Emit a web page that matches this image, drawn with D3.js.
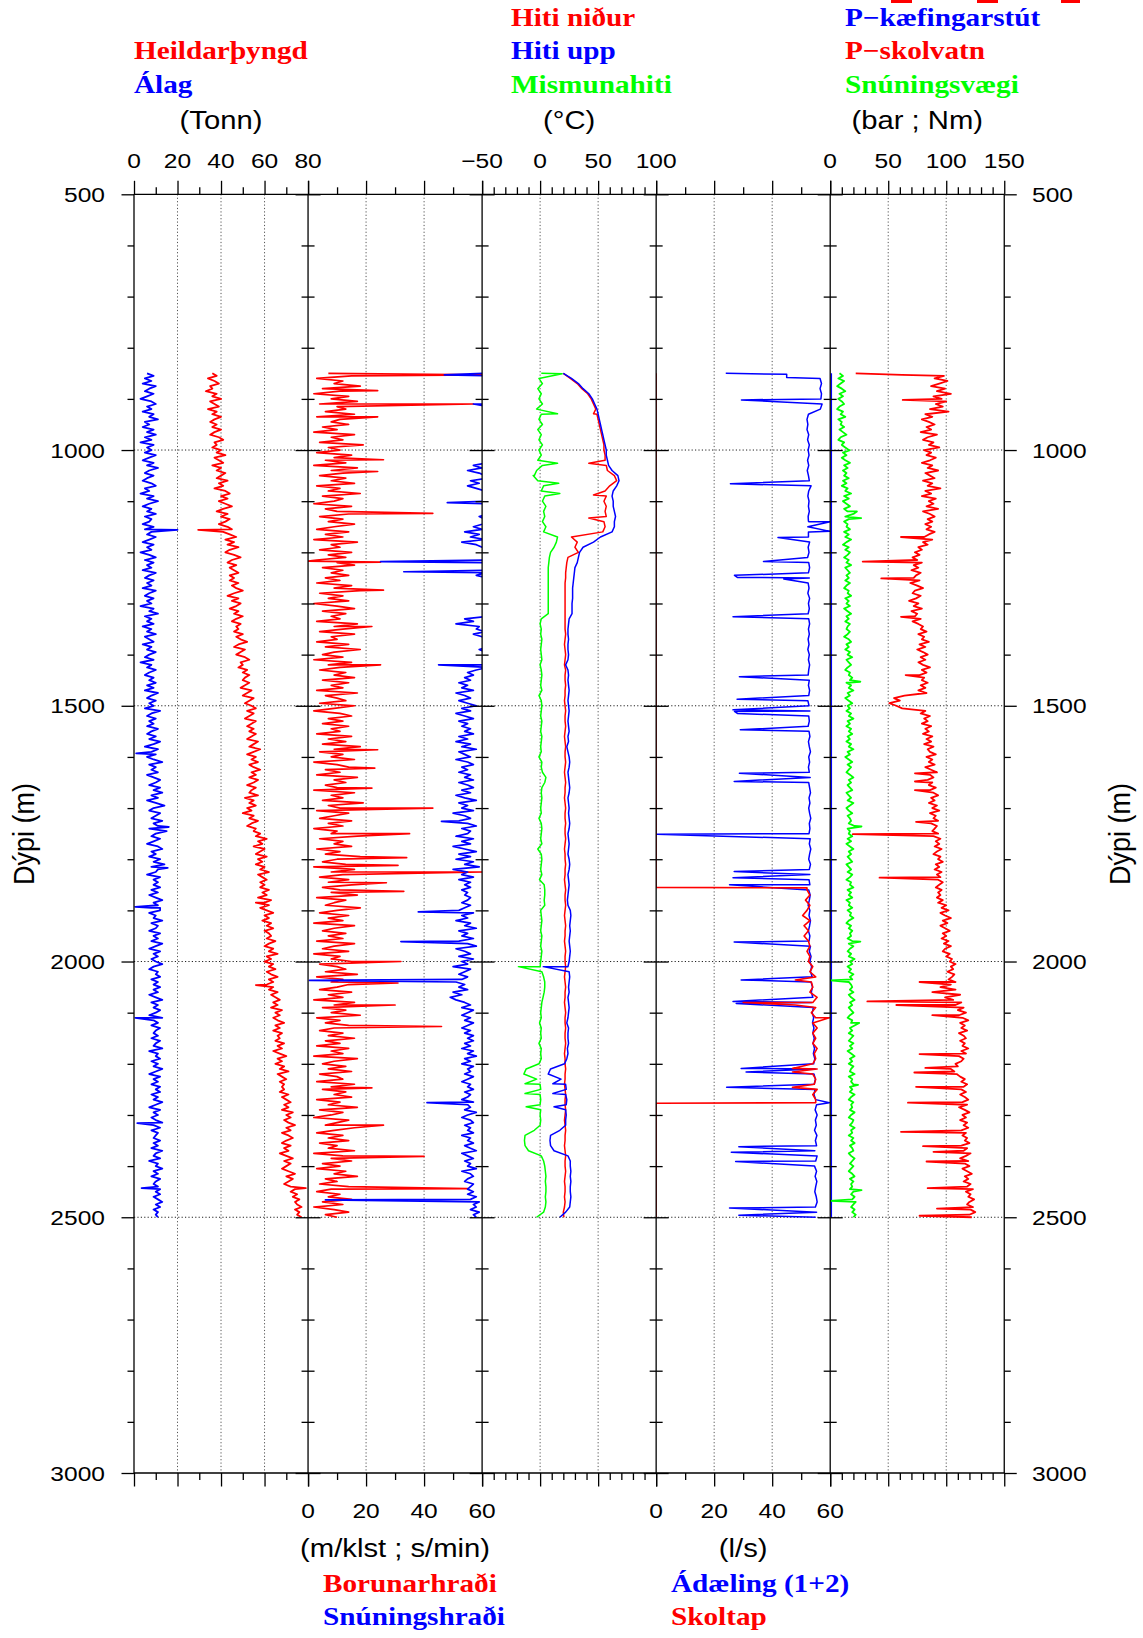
<!DOCTYPE html>
<html><head><meta charset="utf-8">
<script src="https://cdn.jsdelivr.net/npm/d3@7"></script>
<style>body{margin:0;background:#fff}svg{display:block}</style>
</head><body>
<svg id="c" width="1143" height="1638"></svg>
<script>
// ---------------- DATA ----------------
const depthStart = 850, depthEnd = 2500;
const grid5 = d3.range(depthStart, depthEnd + 1, 5);    // fine sampling (noisy logs)
const grid10 = d3.range(depthStart, depthEnd + 1, 10);  // coarse sampling (smooth logs)

// Panel 1 (Tonn) — 5 m
const alag = [6,9,5,8,4,10,7,5,9,6,3,8,10,6,8,4,9,7,11,5, 7,4,9,6,10,5,8,3,9,6,8,5,10,7,4,9,6,11,7,5,
  9,6,4,8,10,5,7,3,9,6,11,7,4,8,6,10,5,8,7,4, 9,5,8,6,10,7,4,9,6,8,3,7,10,5,9,6,8,4,10,7,
  5,9,6,8,4,10,7,5,9,6,8,3,9,7,11,5,8,6,9,4, 8,6,10,5,7,9,4,8,6,10,7,5,9,3,8,6,10,7,5,9,
  7,10,6,9,5,11,8,6,10,7,9,5,12,8,6,10,7,9,6,11, 8,6,10,7,12,9,5,11,8,10,6,9,13,7,10,8,11,6,9,12,
  10,7,12,9,13,8,11,6,10,14,9,7,12,10,8,13,9,11,7,15, 10,8,12,9,6,11,13,8,10,7,12,9,14,8,11,10,6,12,9,11,
  9,12,8,11,7,10,13,9,11,8,12,7,10,9,13,8,11,10,7,12, 9,11,8,13,10,7,12,9,11,8,10,13,9,7,11,10,12,8,11,9,
  12,9,11,7,10,13,8,11,9,12,10,7,13,9,11,8,12,10,9,11, 8,12,10,9,13,7,11,10,12,8,11,9,13,10,7,12,9,11,8,12,
  10,12,8,11,9,13,10,7,12,9,11,8,10,13,9,12,8,11,10,9, 12,9,11,8,13,10,9,12,7,11,10,13,9,11,8,12,10,9,11,12,
  10,12,9,11,13,10,12,9,11,10,11];
const alagSpikes = [[1156,20],[1593,1],[1737,16],[1817,15.5],[1893,0.5],[1895,12],[2110,0.6],[2316,1.5],[2443,3.5]];
const heildar = [36,38,34,37,39,35,36,33,38,36,40,35,37,39,34,38,36,40,37,35, 38,36,40,37,35,39,41,37,38,36,40,38,42,37,39,41,36,40,38,42,
  40,38,43,39,41,37,42,44,40,43,39,42,45,41,38,43,40,44,42,39, 43,45,41,44,47,42,46,43,48,44,42,46,49,45,43,47,44,46,48,44,
  46,44,48,45,47,50,46,43,48,45,49,47,44,48,46,50,47,45,49,47, 48,46,50,47,49,52,48,46,51,49,47,51,53,49,50,48,52,50,53,51,
  50,53,51,49,54,52,50,55,53,51,54,56,52,55,53,51,56,54,52,55, 53,56,54,52,57,55,53,58,55,52,56,54,57,53,55,58,54,56,53,57,
  55,52,56,54,53,57,51,55,53,56,52,54,50,55,53,57,54,52,56,55, 58,56,61,57,59,55,60,58,56,61,57,59,56,60,58,62,57,59,61,58,
  60,58,62,59,61,57,63,60,62,58,61,64,60,62,59,63,61,64,60,62, 63,61,65,62,60,64,62,66,61,63,60,64,62,65,61,63,66,62,64,61,
  64,62,66,63,65,67,64,66,63,68,65,67,64,66,69,65,67,64,68,66, 67,65,69,66,68,64,67,70,66,68,65,69,67,71,66,68,70,67,69,68,
  69,67,71,68,70,72,69,71,68,73,70,72,69,71,74,70,72,68,71,73, 70,68,72,69,71,67,70,73,69,72,70,68,71,74,70,73,71,69,72,74,
  72,75,73,76,74,75,77,74,76,75,77];
const heildarSpikes = [[1156,29.5],[1885,56],[2046,56],[2443,79]];

// Panel 2 (m/klst ; s/min) — 5 m
const borun = [7,15,3,12,9,18,5,11,2,14,8,17,4,10,13,6,16,3,11,8, 14,5,10,2,16,8,12,4,19,7,11,3,15,9,6,13,2,17,8,12,
  4,13,8,16,3,11,7,18,5,12,9,2,15,6,10,14,4,12,7,16, 9,3,14,6,12,2,17,8,11,4,15,7,13,3,10,16,5,12,8,14,
  6,11,3,15,9,18,4,12,7,14,2,10,16,5,13,8,11,3,17,9, 12,4,16,8,10,3,14,6,18,9,5,12,2,15,7,11,4,13,9,16,
  5,14,8,12,3,17,6,10,13,4,16,9,2,11,15,7,12,5,14,8, 11,3,15,7,13,5,18,9,4,12,8,16,2,10,14,6,11,3,17,9,
  13,6,10,2,16,8,12,5,19,7,11,3,14,9,4,15,7,12,2,10, 8,17,4,12,9,15,3,11,6,18,10,5,13,2,16,8,12,4,14,7,
  15,5,11,8,17,3,13,9,6,18,10,4,14,7,12,2,16,9,5,13, 7,12,3,16,9,5,14,2,11,8,15,4,10,13,6,17,3,12,8,14,
  10,4,15,7,12,2,16,9,5,13,8,18,3,11,6,14,9,4,12,7, 16,6,11,3,14,8,12,2,17,9,5,13,7,15,4,10,12,3,16,8,
  5,13,9,15,3,11,7,17,4,12,8,2,14,10,6,16,9,3,12,7, 14,4,10,7,16,2,12,8,15,5,11,3,13,9,17,6,10,4,14,8,
  3,11,7,15,5,12,2,9,14,6,10];
const borunSpikes = [[853,60],[884,24],[910,57],[935,24],[1019,26],[1042,24],[1124,43],[1217,0],[1219,25],[1274,26],[1345,22],
  [1420,25],[1586,24],[1622,23],[1661,22],[1700,43],[1750,35],[1797,34],[1812,31],[1825,60],[1846,27],[1863,33],[2000,32],
  [2042,31],[2085,30],[2127,46],[2247,22],[2320,26],[2381,40],[2444,55]];
const snunH = [61,62,63,62,61,62,63,62,61,62,63,62,61,62,63,62,61,62,63,62, 62,63,62,61,62,63,62,61,62,63,61,62,63,62,61,62,57,60,55,59,
  61,62,56,59,55,58,61,62,63,62,61,62,63,62,61,62,59,61,62,60, 57,60,54,59,56,61,53,58,60,62,61,62,63,62,61,62,63,62,61,58,
  62,61,63,62,61,62,63,62,61,62,63,62,61,62,63,62,54,57,51,59, 58,61,57,60,62,61,63,62,59,61,62,63,61,62,63,62,58,55,57,54,
  56,52,55,53,57,51,54,56,52,55,58,53,56,51,54,57,52,55,53,56, 54,57,52,55,51,56,53,58,52,54,56,51,55,57,53,55,52,56,54,57,
  52,55,57,53,56,51,54,58,52,55,53,57,50,54,56,52,55,58,53,56, 55,51,57,53,56,50,54,58,52,56,51,57,54,59,50,55,53,57,52,56,
  54,56,53,55,54,56,55,53,56,54,52,57,53,55,51,56,54,58,52,55, 53,57,52,55,58,51,54,56,52,57,53,55,50,56,54,52,55,53,51,54,
  52,55,50,53,49,51,54,56,53,57,55,53,56,54,57,55,53,56,54,57, 55,57,54,56,53,57,55,58,54,56,53,57,55,56,54,57,55,53,56,55,
  57,54,56,55,53,57,55,56,54,58,55,53,56,57,54,56,55,57,53,56, 55,57,54,56,58,53,55,57,54,56,55,58,53,56,57,55,54,57,56,55,
  57,55,58,56,59,57,58,56,59,57,58];
const snunHSpikes = [[853,47],[910,57],[1103,48],[1218,25],[1238,33],[1420,45],[1726,46],[1903,38],[1961,32],[2037,0.5],[2276,41],[2466,6]];

// Panel 3 (°C) — 10 m
const hitiUpp = [20,27,33,37,42,45,47,49,50,51, 52,53,54,55,56,57,57,58,59,62, 67,68,66,63,62,63,63,64,65,64, 64,62,52,46,37,34,33,32,30,29.5,
  29,28.5,28,28,28,27.5,27.5,27.5,25,24.5, 24,24,24.5,24,24,24.5,24,22,24,24.5, 24,24.5,25,24.5,24,24.5,25,24.5,24,24.5,
  25,24,24.5,23,24,25,25.5,25,24,24.5, 25,25.5,25,24,24.5,25,24.5,25,25.5,25, 24,24.5,25,24.5,24,25,25.5,25,24,24.5,
  25,24.5,24,23.5,24,26,26.5,26,25.5,26, 25.5,25,25.5,26,25.5,25,24,25,25.5,25, 24.5,25,24,24.5,25,24.5,24,23,24.5,24,
  24,24.5,23.5,24,23,21,9,7,18,22, 22.5,22,23,22.5,22,22.5,22,22,17,9, 8.5,9,12,24,26,26,26.5,26,26.5,26,
  26,26.5,26,25.5,22,17];
const hitiUppSpikes = [[2010,2.7],[2239,11],[2258,11],[2284,12]];
const hitiNidur = [20,26,32,36,41,44,46,48,49,50, 51,52,53,54,55,55,56,56,57,58, 64,66,60,56,57,55,57,56,57,55, 56,54,27,32,30,33,24,23,22.5,22,
  22,21.5,21.5,21.5,21.5,21.5,21.5,21.5,21.5,21.5, 21.5,22,21.5,21,21.5,22,21.5,21,22,21.5, 21.5,22,21.5,21.5,21,21.5,22,21.5,21.5,22,
  21.5,21,21.5,22,21.5,21.5,22,21.5,21,21.5, 22,21.5,21.5,21,21.5,22,21.5,21.5,22,21.5, 21.5,22,21.5,21,21.5,21.5,22,21.5,21.5,21,
  21.5,22,21.5,21.5,22,21.5,21,21.5,22,21.5, 21.5,21,21.5,22,21.5,21.5,22,21.5,21,21.5, 22,21.5,21.5,21,21.5,22,21.5,21.5,22,21.5,
  21.5,22,21.5,21,21.5,21.5,22,21.5,21.5,21, 21.5,22,21.5,21.5,22,21.5,21,21.5,22,21.5, 21.5,21,21.5,22,21.5,21.5,22,21.5,21,21.5,
  21.5,21,21.5,21,20,20.5];
const hitiNidurSpikes = [[929,46],[1026,42],[1088,46],[1133,42]];
const mismun = [1,-1,2,-2,1,-1,2,-3,1,-1, 2,-2,1,-1,2,-1,1,-2,2,-3, -5,-2,3,1,4,2,5,3,4,2, 5,3,15,14,12,9,8,7.5,7,7,
  7,7,7,7,7,7,7,7,1,0, 1,0.5,1.5,1,0.5,1,1.5,0,1,1.5, 1,0.5,1.5,-1,1,1.5,1,0.5,1.5,1, 0.5,1.5,1,0.5,1,-1,1.5,1,2,5,
  4,1.5,1,1.5,1,0.5,1,-1,1,1.5, 1,0.5,1.5,-2,1,1.5,1,0.5,1.5,-0.5, 3.5,4,4,3.5,4,0.5,1,1.5,1,0.5, 1.5,1,0.5,1.5,1,0.5,0,1.5,3,4,
  4,3.5,2.5,1.5,1,0.5,1,-0.5,1,0.5, 1,-1,1,0.5,1,-1,-12,-14,-3,0, 0.5,0,0.5,0,0.5,0,0.5,0,-5,-13, -13.5,-13,-10,1,3,4,4.5,5,4.5,5,
  5,4.5,5,4.5,3,-3];
const mismunSpikes = [[851,19],[929,15],[1026,15],[1050,-6],[1065,16],[1085,17],[2010,-18.7],[2239,-13],[2258,-13],[2284,-12]];

// Panel 4 (l/s) — 10 m
const adaeling = [24,56.5,57,56.5,57,56.8,57.2,56.6,52.5,52, 52.3,52,52.6,52.2,52.8,52.4,52.7,52.2,52.6,52.1,
  52.5,52.8,53.4,52.6,52.3,52.7,52.5,52.8,52.4,52.6, 52.3,52.8,52.5,52.9,52.4,52.7,52.2,52.6,52.9,52.5,
  52.8,52.4,52.7,52.3,52.9,52.5,52.8,52.4,52.6,52.9, 52.5,52.8,52.4,52.7,52.3,52.8,52.5,52.9,52.6,52.4,
  52.8,52.5,52.9,52.6,52.3,52.7,53,52.6,52.8,52.4, 52.7,53,52.5,52.8,53.2,52.6,52.9,52.5,52.8,53.1,
  52.6,52.9,53.2,52.7,53,52.6,52.9,53.3,52.8,53, 52.7,53.1,52.8,53.3,52.9,52.6,53.2,52.8,53,52.7,
  53,52.6,53.1,52.8,52.4,53,52.7,53.2,52.9,52.5, 53,52.7,53.2,52.8,53.4,53,53.6,53.2,53.8,53.4,
  53.9,53.5,54,53.6,54.2,53.8,54.3,53.9,54.4,54, 54.5,54.1,54.6,54.2,54.7,54.3,54.8,54.4,54.9,54.5,
  54.8,54.4,55,55.3,54.8,55.5,54.9,55.2,54.6,55.4, 54.9,55.3,54.7,55.5,55,54.6,55.3,54.8,55.4,55,
  54.7,55.2,55.5,54.9,55.3,55];
const adaelingSpikes = [[852,45],[858,45],[902,29.4],[1066,25.6],[1139,52.5],[1140,60],[1159,60],[1160,52.5],[1171,42],[1218,37],
  [1245,27],[1249,28],[1252,44],[1326,26.5],[1443,28.7],[1487,27.9],[1508,26.5],[1511,27],[1515,28],[1547,29],[1632,28.7],
  [1648,26.9],[1751,0.3],[1824,26.9],[1836,26.5],[1850,25.3],[1962,26.9],[2036,29.3],[2078,26.5],[2082,27.6],[2209,29.3],
  [2216,31],[2246,24.3],[2276,59.7],[2362,28.5],[2373,25.9],[2391,27.4],[2482,25.3],[2496,28.5]];
const skoltap = [[850,0],[1855,0],[1856,52],[1860,52],[1870,53],[1880,51.5],[1890,53],[1900,52],[1910,50.5],[1920,53],[1930,51],
  [1940,52.5],[1950,51],[1960,52.5],[1970,53],[1980,52],[1990,53],[2000,52.5],[2010,54],[2020,53],[2030,55],[2040,53.5],
  [2050,54],[2060,53],[2070,55.5],[2080,54],[2090,55],[2100,53.5],[2110,55],[2120,54],[2130,55.5],[2140,54],[2150,55],
  [2160,54],[2170,55.5],[2180,54.5],[2190,55],[2200,54],[2210,55.5],[2220,54],[2230,55],[2240,54.5],[2250,55.5],[2260,54],
  [2270,55],[2276,55],[2277,0],[2500,0]];
const skoltapSpikes = [[2036,48],[2080,30],[2085,48],[2110,59.7],[2209,47],[2216,47],[2246,47]];

// Panel 5 (bar ; Nm) — 5 m
const pkaef = [[850,1],[2500,1]];
const snunV = [8,11,7,12,9,6,10,13,8,11,7,10,12,8,6,11,9,13,7,10, 9,12,8,11,14,9,7,12,10,13,16,11,14,10,13,17,12,15,11,14,
  12,16,11,14,10,15,13,18,12,16,11,14,17,12,15,20,13,16,12,15, 14,17,12,16,13,18,14,11,16,13,17,15,12,16,14,18,13,15,17,14,
  16,13,17,14,12,16,15,18,13,16,14,17,12,15,18,14,16,13,17,15, 14,17,15,12,16,18,14,16,13,17,15,19,14,16,18,15,13,17,16,19,
  17,14,18,16,20,15,17,13,16,19,15,17,14,18,16,20,15,17,14,18, 16,19,15,17,14,18,16,20,15,17,13,16,19,15,18,16,14,17,20,16,
  18,15,17,19,14,16,18,15,20,17,14,16,19,15,17,18,16,21,15,17, 16,19,15,18,14,17,20,16,18,15,17,19,14,16,18,15,19,17,14,18,
  17,20,15,18,16,19,14,17,16,19,15,18,17,20,16,14,18,16,19,17, 18,15,19,16,20,17,15,18,16,21,17,19,15,18,16,20,17,19,16,18,
  19,17,20,16,18,21,17,19,16,18,20,17,15,19,18,21,17,19,16,20, 18,16,20,17,19,15,18,21,17,19,16,20,18,17,21,16,19,18,20,17,
  19,17,21,18,16,20,18,19,17,21,18,16,20,19,17,21,18,19,16,20, 18,21,17,19,20,16,18,21,19,17,20,18,16,19,21,17,20,18,19,17,
  20,18,21,19,22,20,18,21,19,22,20];
const snunVSpikes = [[1000,17],[1120,23],[1133,26.7],[1453,26],[1736,27],[1961,26],[2037,0],[2120,25],[2241,24],[2447,27],[2468,0]];
const pskol = [22,98,90,101,94,87,99,92,104,89,96,100,91,97,86,102,82,88,79,85, 90,83,87,78,92,84,80,89,85,94,81,87,83,91,86,79,88,84,93,82,
  86,90,80,88,84,95,82,87,79,91,85,89,83,93,80,86,90,84,88,82, 87,83,90,85,81,88,80,84,76,79,73,77,71,75,79,72,76,70,78,74,
  72,77,69,75,80,73,71,78,74,68,76,72,79,70,75,73,78,71,76,80, 78,83,76,81,79,85,77,82,75,80,84,78,82,76,80,86,79,83,77,81,
  79,84,78,82,76,83,64,55,60,51,57,62,82,78,86,81,84,79,87,82, 85,80,88,83,87,81,89,84,86,91,83,88,85,90,82,87,92,86,89,84,
  88,85,91,86,89,93,87,90,85,92,88,94,86,91,89,93,87,92,90,88, 93,89,95,91,94,90,96,92,89,95,93,97,91,94,90,96,92,95,93,97,
  94,91,96,93,95,92,97,93,100,96,102,95,99,104,97,101,95,99,103,97, 100,96,102,98,104,99,97,103,100,105,103,108,104,106,101,107,105,102,108,104,
  95,108,88,112,99,106,113,108,115,110,117,111,114,119,112,116,113,118,111,115, 117,112,116,114,119,113,117,111,115,113,108,110,104,107,109,112,116,113,118,115,
  113,117,112,116,119,114,118,111,116,120,114,117,112,118,115,119,113,117,114,118, 116,120,113,118,115,121,117,112,119,116,120,114,118,122,116,119,115,121,118,123,
  117,121,119,124,120,118,123,121,125,120,122];
const pskolSpikes = [[853,62],[902,62.5],[1170,61],[1218,28],[1251,44],[1326,61],[1440,65],[1632,73],[1648,73],[1665,73],
  [1727,74],[1751,19.5],[1836,42.5],[2040,77],[2078,32],[2085,57],[2105,88],[2181,77],[2208,82],[2217,72.5],[2245,74],[2276,67],
  [2333,61],[2361,80],[2372,89],[2391,83],[2443,84],[2483,92],[2497,77]];

// Axes / labels
const panelDomains = [[0,80],[0,60],[-50,100],[0,60],[0,150]];
const majorTicks = [[0,20,40,60,80],[0,20,40,60],[-50,0,50,100],[0,20,40,60],[0,50,100,150]];
const minorTicks = [[10,30,50,70],[10,30,50],[-40,-30,-20,-10,10,20,30,40,60,70,80,90],[10,30,50],
  [10,20,30,40,60,70,80,90,110,120,130,140]];
const gridVals = [[20,40,60],[20,40],[0,50],[20,40],[50,100]];
const topLabelPanels = [0,2,4], bottomLabelPanels = [1,3];
const depthMajor = [500,1000,1500,2000,2500,3000];
const depthMinor = [600,700,800,900,1100,1200,1300,1400,1600,1700,1800,1900,2100,2200,2300,2400,2600,2700,2800,2900];
const depthGrid = [1000,1500,2000,2500];
const unitsTop = ["(Tonn)", null, "(°C)", null, "(bar ; Nm)"];
const unitsBottom = [null, "(m/klst ; s/min)", null, "(l/s)", null];

// ---------------- DRAW ----------------
const svg = d3.select("#c");
const X0 = 134, PW = 174.05, Y0 = 194.3, Y1 = 1473;
const xs = panelDomains.map((dom,i)=>d3.scaleLinear().domain(dom).range([X0+i*PW, X0+(i+1)*PW]));
const y = d3.scaleLinear().domain([500,3000]).range([Y0,Y1]);
const SX = 1.17;
const SANS = "'Liberation Sans', Arial, Helvetica, sans-serif";
const SERIF = "'Liberation Serif', 'Times New Roman', serif";
const RED="#ff0000", BLUE="#0000ff", GREEN="#00ff00";

function txt(x, yy, s, o={}) {
  return svg.append("text")
    .attr("transform", `translate(${x},${yy}) scale(${o.sx||SX},1)`)
    .attr("text-anchor", o.anchor||"middle")
    .attr("font-family", o.serif?SERIF:SANS)
    .attr("font-weight", o.serif?"bold":"normal")
    .attr("font-size", o.size||21)
    .attr("fill", o.color||"#000").text(s);
}

const defs = svg.append("defs");
xs.forEach((s,i)=>{
  defs.append("clipPath").attr("id","clip"+i).append("rect")
    .attr("x", s.range()[0]).attr("y", Y0).attr("width", PW).attr("height", Y1-Y0);
});

// grid
const grid = svg.append("g").attr("stroke","#555").attr("stroke-width",1).attr("stroke-dasharray","1.2,2.2");
gridVals.forEach((vals,i)=>vals.forEach(v=>{
  grid.append("line").attr("x1",xs[i](v)).attr("x2",xs[i](v)).attr("y1",Y0).attr("y2",Y1);
}));
depthGrid.forEach(d=>{
  grid.append("line").attr("x1",X0).attr("x2",X0+5*PW).attr("y1",y(d)).attr("y2",y(d)).attr("stroke","#222");
});

// series
function withSpikes(vals, spikes, g){
  return g.map((d,i)=>[d, vals[i]]).filter(p=>p[1]!==undefined).concat(spikes||[]).sort((a,b)=>a[0]-b[0]);
}
function pairs(p, spikes){ return p.concat(spikes||[]).sort((a,b)=>a[0]-b[0]); }
const series = [
  {p:0,c:BLUE, w:1.8, pts:withSpikes(alag, alagSpikes, grid5)},
  {p:0,c:RED, w:1.8, pts:withSpikes(heildar, heildarSpikes, grid5)},
  {p:1,c:RED, w:1.7, pts:withSpikes(borun, borunSpikes, grid5)},
  {p:1,c:BLUE, w:1.7, pts:withSpikes(snunH, snunHSpikes, grid5)},
  {p:2,c:GREEN, w:1.5, pts:withSpikes(mismun, mismunSpikes, grid10)},
  {p:2,c:RED, w:1.5, pts:withSpikes(hitiNidur, hitiNidurSpikes, grid10)},
  {p:2,c:BLUE, w:1.5, pts:withSpikes(hitiUpp, hitiUppSpikes, grid10)},
  {p:3,c:BLUE, w:1.5, pts:withSpikes(adaeling, adaelingSpikes, grid10)},
  {p:3,c:RED, w:1.6, pts:pairs(skoltap, skoltapSpikes)},
  {p:4,c:BLUE, w:1.4, pts:pkaef},
  {p:4,c:GREEN, w:1.8, pts:withSpikes(snunV, snunVSpikes, grid5)},
  {p:4,c:RED, w:1.8, pts:withSpikes(pskol, pskolSpikes, grid5)}
];
series.forEach(s=>{
  const line = d3.line().x(d=>xs[s.p](d[1])).y(d=>y(d[0]));
  svg.append("path").attr("clip-path",`url(#clip${s.p})`).attr("d", line(s.pts))
    .attr("fill","none").attr("stroke", s.c).attr("stroke-width",s.w).attr("stroke-linejoin","round");
});

// frame
const frame = svg.append("g").attr("stroke","#000").attr("stroke-width",1.3).attr("fill","none");
frame.append("line").attr("x1",X0).attr("x2",X0+5*PW).attr("y1",Y0).attr("y2",Y0);
frame.append("line").attr("x1",X0).attr("x2",X0+5*PW).attr("y1",Y1).attr("y2",Y1);
for(let i=0;i<=5;i++) frame.append("line").attr("x1",X0+i*PW).attr("x2",X0+i*PW).attr("y1",Y0).attr("y2",Y1);

function styleAxis(g){ g.select(".domain").remove(); g.selectAll("line").attr("stroke","#000").attr("stroke-width",1.3); }
xs.forEach((s,i)=>{
  [[Y0,d3.axisTop],[Y1,d3.axisBottom]].forEach(([yy,fn])=>{
    svg.append("g").attr("transform",`translate(0,${yy})`).call(fn(s).tickValues(minorTicks[i]).tickSize(7).tickFormat("").tickSizeOuter(0)).call(styleAxis);
    svg.append("g").attr("transform",`translate(0,${yy})`).call(fn(s).tickValues(majorTicks[i]).tickSize(13.5).tickFormat("").tickSizeOuter(0)).call(styleAxis);
  });
});
for(let i=0;i<=5;i++){
  const x = X0+i*PW;
  const sides = i===0?["L"]:(i===5?["R"]:["L","R"]);
  sides.forEach(sd=>{
    const fn = sd==="L"?d3.axisLeft:d3.axisRight;
    svg.append("g").attr("transform",`translate(${x},0)`).call(fn(y).tickValues(depthMinor).tickSize(6.5).tickFormat("").tickSizeOuter(0)).call(styleAxis);
    svg.append("g").attr("transform",`translate(${x},0)`).call(fn(y).tickValues(depthMajor).tickSize(12.5).tickFormat("").tickSizeOuter(0)).call(styleAxis);
  });
}

// tick labels
topLabelPanels.forEach(i=>majorTicks[i].forEach(v=>txt(xs[i](v), 168, v<0?"\u2212"+Math.abs(v):String(v))));
bottomLabelPanels.forEach(i=>majorTicks[i].forEach(v=>txt(xs[i](v), 1518, String(v))));
depthMajor.forEach(d=>{
  txt(105, y(d)+7.5, String(d), {anchor:"end"});
  txt(1032, y(d)+7.5, String(d), {anchor:"start"});
});
unitsTop.forEach((u,i)=>{ if(u) txt(X0+(i+0.5)*PW, 129, u, {size:25}); });
unitsBottom.forEach((u,i)=>{ if(u) txt(X0+(i+0.5)*PW, 1557, u, {size:25}); });

// rotated axis titles
[24,1120].forEach(x=>{
  svg.append("text").attr("transform",`translate(${x},834) rotate(-90) scale(1,1.1)`).attr("dy","0.35em")
    .attr("text-anchor","middle").attr("font-family",SANS).attr("font-size",27).text("Dýpi (m)");
});

// legend labels (serif bold)
const L = {serif:true, size:25, anchor:"start"};
txt(134, 59, "Heildarþyngd", {...L, color:RED});
txt(134, 92.5, "Álag", {...L, color:BLUE});
txt(511, 25.5, "Hiti niður", {...L, color:RED});
txt(511, 59, "Hiti upp", {...L, color:BLUE});
txt(511, 92.5, "Mismunahiti", {...L, color:GREEN});
txt(845, 25.5, "P\u2212kæfingarstút", {...L, color:BLUE});
txt(845, 59, "P\u2212skolvatn", {...L, color:RED});
txt(845, 92.5, "Snúningsvægi", {...L, color:GREEN});
txt(323, 1592, "Borunarhraði", {...L, color:RED});
txt(323, 1625, "Snúningshraði", {...L, color:BLUE});
txt(671, 1592, "Ádæling (1+2)", {...L, color:BLUE});
txt(671, 1625, "Skoltap", {...L, color:RED});

// cut-off red marks at the very top right
[[891,21],[977,21],[1061,19]].forEach(([x,w])=>svg.append("rect").attr("x",x).attr("y",0).attr("width",w).attr("height",3).attr("fill",RED));
</script>
</body></html>
